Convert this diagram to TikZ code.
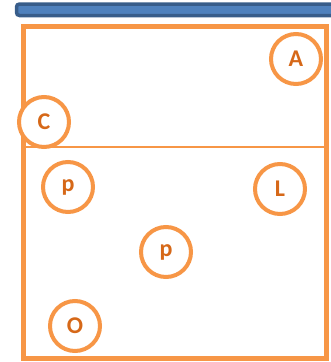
\documentclass[tikz,border=0pt]{standalone}
\usepackage{fontspec}
\setsansfont{Carlito}
\usetikzlibrary{positioning}

\definecolor{linecol}{HTML}{F79646}
\definecolor{lettercol}{RGB}{214,104,24}
\definecolor{barfill}{HTML}{4F81BD}
\definecolor{barline}{HTML}{385D8A}

\begin{document}
\begin{tikzpicture}[
    x=1pt, y=-1pt,
    font=\sffamily\bfseries,
    spotnode/.style={
        circle, draw=linecol, line width=4pt, fill=white,
        minimum size=50pt, inner sep=0pt, text=lettercol,
        font=\sffamily\bfseries\fontsize{24}{24}\selectfont
    },
    fieldbox/.style={
        draw=linecol, line width=5pt, inner sep=0pt,
        minimum width=302.5pt, minimum height=332pt
    },
    topbar/.style={
        draw=barline, fill=barfill, line width=3.5pt, rounded corners=3pt,
        inner sep=0pt, minimum width=330pt, minimum height=11.5pt
    },
    midline/.style={draw=linecol, line width=1.5pt}
]
\useasboundingbox (0,0) rectangle (331,362);

% --- bar and field ---
\node[topbar] (bar) at (181.5,9.75) {};
\node[fieldbox] (field) at (174.75,192) {};
\coordinate (mid) at (0,147);
\draw[midline] (field.west |- mid) -- (field.east |- mid);

% --- spots ---
\node[spotnode] (spotA) at (296,59) {A};
\node[spotnode] (spotC) at (44,122) {C};
\node[spotnode] (spotP) at (68,187) {p};
\node[spotnode] (spotL) at (280,189) {L};
\node[spotnode] (spotQ) at (166,252) {p};
\node[spotnode] (spotO) at (75,326) {O};

\end{tikzpicture}
\end{document}
